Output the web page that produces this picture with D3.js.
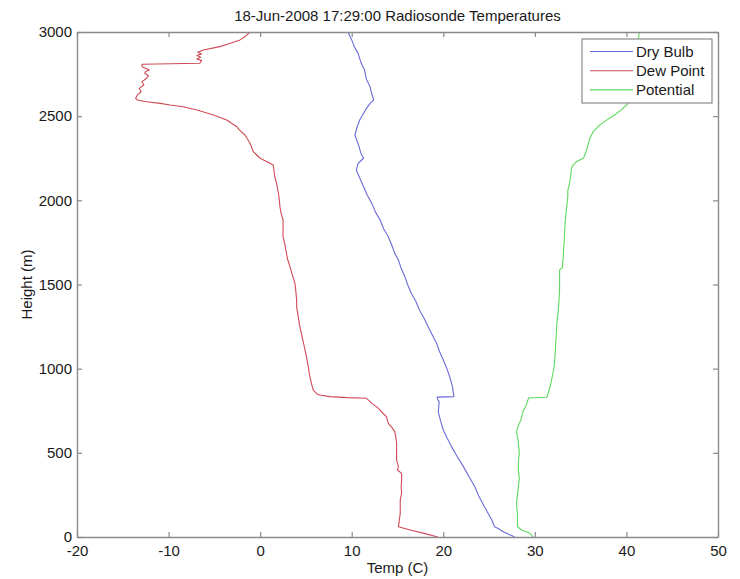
<!DOCTYPE html>
<html>
<head>
<meta charset="utf-8">
<script src="https://cdn.jsdelivr.net/npm/d3@7"></script>
<style>
  html, body { margin: 0; padding: 0; background: #fff; }
  svg { display: block; font-family: "Liberation Sans", Arial, Helvetica, sans-serif; }
</style>
</head>
<body>
<svg id="chart" width="740" height="579"></svg>
<script>
// ---- Data ----
const title = "18-Jun-2008 17:29:00 Radiosonde Temperatures";
const xLabel = "Temp (C)";
const yLabel = "Height (m)";
const xTicks = [-20, -10, 0, 10, 20, 30, 40, 50];
const yTicks = [0, 500, 1000, 1500, 2000, 2500, 3000];
const seriesNames = ["Dry Bulb", "Dew Point", "Potential"];

// Dry bulb: [height m, temp C]
const dryBulb = [
  [3000,9.6],[2975,9.8],[2953,10.0],[2910,10.3],[2873,10.7],[2820,11.0],[2774,11.4],[2720,11.6],
  [2675,12.0],[2630,12.2],[2596,12.4],[2576,12.0],[2545,11.6],[2517,11.3],[2480,10.9],[2437,10.6],
  [2388,10.35],[2350,10.6],[2319,10.8],[2280,11.0],[2250,11.3],[2235,11.0],[2220,10.7],[2180,10.5],
  [2130,10.9],[2081,11.3],[2030,11.7],[1982,12.2],[1930,12.6],[1883,13.1],[1830,13.5],[1784,14.0],
  [1730,14.4],[1685,14.7],[1646,15.1],[1596,15.4],[1547,15.8],[1500,16.1],[1448,16.5],[1400,17.0],
  [1349,17.4],[1300,17.9],[1249,18.35],[1200,18.8],[1151,19.27],[1100,19.6],[1052,20.0],[1000,20.4],
  [952,20.7],[893,21.0],[834,21.16],[831,19.33],[815,19.4],[804,19.55],[770,19.5],[745,19.45],
  [690,19.7],[636,20.0],[590,20.4],[537,20.9],[480,21.5],[418,22.2],[360,22.8],[299,23.45],
  [240,23.9],[180,24.5],[140,24.9],[101,25.3],[61,25.6],[51,26.0],[30,26.6],[15,27.2],[0,27.8]
];

// Dew point: [height m, temp C]
const dewPoint = [
  [3000,-1.1],[2975,-1.6],[2953,-2.2],[2930,-3.4],[2913,-4.4],[2893,-6.2],[2880,-6.8],[2870,-6.4],
  [2860,-6.9],[2850,-6.5],[2840,-6.9],[2830,-6.4],[2814,-6.6],[2808,-12.9],[2794,-12.9],[2774,-12.1],
  [2765,-12.5],[2755,-12.6],[2740,-12.2],[2725,-12.4],[2705,-12.9],[2685,-12.7],[2665,-13.2],[2645,-13.0],
  [2626,-13.4],[2606,-13.6],[2596,-13.4],[2586,-12.4],[2576,-10.9],[2566,-9.85],[2556,-8.4],[2537,-6.9],
  [2507,-5.1],[2477,-3.65],[2437,-2.55],[2420,-2.3],[2388,-1.66],[2339,-1.1],[2289,-0.75],[2250,0.0],
  [2220,1.07],[2210,1.43],[2180,1.5],[2140,1.6],[2100,1.8],[2042,2.0],[2000,2.1],[1962,2.16],
  [1920,2.3],[1883,2.5],[1840,2.5],[1784,2.5],[1740,2.7],[1705,2.8],[1650,3.0],[1606,3.25],
  [1560,3.5],[1507,3.8],[1460,3.9],[1408,3.98],[1360,4.0],[1309,4.16],[1260,4.3],[1210,4.5],
  [1160,4.7],[1111,4.9],[1060,5.1],[1012,5.25],[960,5.4],[913,5.6],[873,5.8],[850,6.2],
  [844,6.5],[834,7.6],[828,9.5],[824,11.6],[810,11.9],[794,12.2],[770,12.8],[754,13.1],
  [735,13.4],[715,13.8],[690,13.9],[675,14.0],[650,14.4],[626,14.7],[596,14.8],[560,14.9],
  [517,14.9],[457,14.9],[420,15.1],[398,15.0],[378,15.45],[339,15.45],[300,15.4],[260,15.45],
  [220,15.3],[180,15.3],[141,15.3],[100,15.2],[61,15.1],[40,16.5],[20,18.0],[0,19.4]
];

// Potential temperature: [height m, temp C]
const potential = [
  [3000,41.4],[2950,41.3],[2850,41.1],[2750,40.9],[2650,40.6],[2576,40.2],[2540,39.5],[2507,38.7],
  [2475,37.8],[2448,37.1],[2410,36.4],[2368,36.0],[2330,35.8],[2289,35.6],[2250,35.3],[2230,34.55],
  [2210,34.2],[2190,34.0],[2140,33.9],[2091,33.75],[2061,33.6],[2020,33.6],[1972,33.5],[1920,33.4],
  [1864,33.3],[1760,33.2],[1665,33.1],[1600,33.0],[1586,32.7],[1520,32.7],[1467,32.7],[1370,32.6],
  [1270,32.4],[1170,32.3],[1071,32.2],[1010,32.1],[952,31.9],[900,31.7],[854,31.45],[830,31.3],
  [826,29.3],[824,29.3],[790,29.1],[764,28.9],[754,28.75],[700,28.5],[660,28.2],[626,28.0],
  [560,28.2],[497,28.3],[450,28.2],[398,28.2],[350,28.3],[299,28.2],[250,28.1],[200,28.0],
  [130,28.1],[61,28.1],[40,28.6],[22,29.45],[0,29.8]
];

const seriesData = [dryBulb, dewPoint, potential];
const seriesColors = ["#6a6ad8", "#d04a55", "#5cd85c"];

// ---- Layout ----
(function draw() {
  const svg = d3.select("#chart");
  const mL = 77, mR = 718, mT = 32, mB = 537;
  const axisColor = "#8a8a8a";
  const fmt = d => String(d);

  const x = d3.scaleLinear().domain([-20, 50]).range([mL, mR]);
  const y = d3.scaleLinear().domain([0, 3000]).range([mB, mT]);

  svg.append("rect").attr("width", 740).attr("height", 579).attr("fill", "#fff");

  // Lines
  const line = d3.line().x(d => x(d[1])).y(d => y(d[0]));
  const plot = svg.append("g");
  seriesData.forEach((s, i) => {
    plot.append("path")
      .datum(s)
      .attr("fill", "none")
      .attr("stroke", seriesColors[i])
      .attr("stroke-width", 1.1)
      .attr("stroke-linejoin", "round")
      .attr("d", line);
  });

  function styleAxis(g) {
    g.selectAll("path.domain").attr("stroke", axisColor).attr("stroke-width", 1.4);
    g.selectAll(".tick line").attr("stroke", axisColor).attr("stroke-width", 1.2);
    g.selectAll(".tick text").attr("fill", "#1a1a1a").attr("font-size", 15)
      .attr("font-family", "'Liberation Sans', Arial, sans-serif");
  }

  svg.append("g").attr("transform", `translate(0,${mB})`)
    .call(d3.axisBottom(x).tickValues(xTicks).tickFormat(fmt).tickSizeInner(-5).tickSizeOuter(0).tickPadding(8))
    .call(styleAxis);
  svg.append("g").attr("transform", `translate(0,${mT})`)
    .call(d3.axisTop(x).tickValues(xTicks).tickSizeInner(-5).tickSizeOuter(0).tickFormat(""))
    .call(styleAxis);
  svg.append("g").attr("transform", `translate(${mL},0)`)
    .call(d3.axisLeft(y).tickValues(yTicks).tickFormat(fmt).tickSizeInner(-5).tickSizeOuter(0).tickPadding(5))
    .call(styleAxis);
  svg.append("g").attr("transform", `translate(${mR},0)`)
    .call(d3.axisRight(y).tickValues(yTicks).tickSizeInner(-5).tickSizeOuter(0).tickFormat(""))
    .call(styleAxis);

  // Title and labels
  svg.append("text").attr("x", (mL + mR) / 2).attr("y", 21)
    .attr("text-anchor", "middle").attr("font-size", 15).attr("fill", "#1a1a1a").text(title);
  svg.append("text").attr("x", (mL + mR) / 2).attr("y", 573)
    .attr("text-anchor", "middle").attr("font-size", 15).attr("fill", "#1a1a1a").text(xLabel);
  svg.append("text").attr("transform", `translate(32,${(mT + mB) / 2}) rotate(-90)`)
    .attr("text-anchor", "middle").attr("font-size", 15).attr("fill", "#1a1a1a").text(yLabel);

  // Legend
  const lg = svg.append("g");
  lg.append("rect").attr("x", 582).attr("y", 39).attr("width", 130).attr("height", 64)
    .attr("fill", "#fff").attr("stroke", axisColor).attr("stroke-width", 1.2);
  seriesNames.forEach((name, i) => {
    const cy = 51.5 + i * 19.2;
    lg.append("line").attr("x1", 590).attr("x2", 633).attr("y1", cy).attr("y2", cy)
      .attr("stroke", seriesColors[i]).attr("stroke-width", 1.1);
    lg.append("text").attr("x", 636).attr("y", cy).attr("dy", "0.35em")
      .attr("font-size", 15).attr("fill", "#1a1a1a").text(name);
  });
})();
</script>
</body>
</html>
